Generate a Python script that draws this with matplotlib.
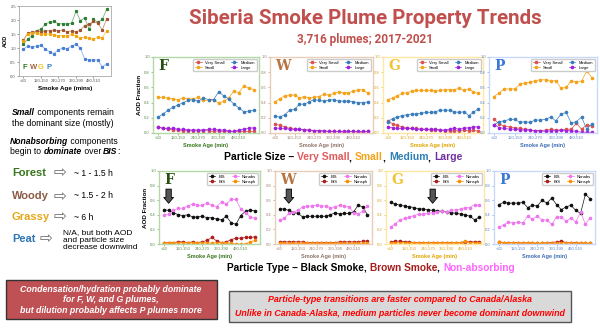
import matplotlib
matplotlib.use('Agg')
import matplotlib.pyplot as plt
import numpy as np
from matplotlib.patches import Rectangle

plt.rcParams['font.family'] = ['Liberation Sans', 'DejaVu Sans']

W, H = 600, 328

# ---- data ----
age_ticks = [0, 4, 8, 12, 16]
age_labels = ['<30', '120-150', '240-270', '360-390', '480-510']
x = np.arange(20)

# inset: total AOD per fuel type
aod_forest = [1.13, 1.32, 1.44, 1.62, 1.67, 1.86, 1.92, 1.95, 1.86, 1.87,
              1.86, 1.88, 2.31, 1.98, 2.08, 1.67, 2.02, 1.92, 2.02, 2.38]
aod_woody = [1.29, 1.52, 1.57, 1.61, 1.58, 1.61, 1.62, 1.64, 1.61, 1.64,
             1.57, 1.61, 1.58, 1.64, 1.80, 1.86, 1.95, 1.88, 1.64, 2.04]
aod_grassy = [1.25, 1.51, 1.55, 1.52, 1.49, 1.51, 1.49, 1.48, 1.44, 1.44,
              1.43, 1.49, 1.43, 1.37, 1.38, 1.35, 1.31, 1.39, 1.37, 1.61]
aod_peat = [0.96, 1.07, 1.03, 1.07, 1.09, 0.97, 0.86, 0.80, 0.94, 1.00,
            0.98, 1.07, 1.13, 1.00, 0.60, 0.58, 0.57, 0.57, 0.33, 0.43]

# particle size fractions
size_F = {
    'Very Small': [0.08, 0.06, 0.05, 0.04, 0.04, 0.03, 0.03, 0.03, 0.03, 0.03,
                   0.03, 0.02, 0.03, 0.02, 0.02, 0.02, 0.02, 0.02, 0.02, 0.02],
    'Small': [0.47, 0.47, 0.46, 0.45, 0.44, 0.46, 0.45, 0.45, 0.47, 0.43,
              0.43, 0.44, 0.39, 0.42, 0.46, 0.55, 0.53, 0.62, 0.59, 0.57],
    'Medium': [0.21, 0.25, 0.30, 0.34, 0.37, 0.40, 0.43, 0.44, 0.42, 0.46,
               0.44, 0.44, 0.54, 0.49, 0.45, 0.38, 0.33, 0.28, 0.29, 0.30],
    'Large': [0.08, 0.06, 0.06, 0.06, 0.05, 0.05, 0.04, 0.04, 0.04, 0.04,
              0.05, 0.05, 0.04, 0.04, 0.03, 0.02, 0.04, 0.05, 0.06, 0.07],
}
size_W = {
    'Very Small': [0.12, 0.10, 0.08, 0.06, 0.05, 0.05, 0.04, 0.04, 0.03, 0.03,
                   0.02, 0.02, 0.02, 0.02, 0.01, 0.02, 0.02, 0.01, 0.01, 0.02],
    'Small': [0.41, 0.45, 0.49, 0.50, 0.50, 0.46, 0.48, 0.46, 0.47, 0.48,
              0.51, 0.50, 0.52, 0.54, 0.53, 0.53, 0.55, 0.57, 0.57, 0.52],
    'Medium': [0.22, 0.21, 0.24, 0.30, 0.31, 0.38, 0.38, 0.41, 0.44, 0.43,
               0.42, 0.43, 0.44, 0.42, 0.42, 0.42, 0.41, 0.40, 0.40, 0.41],
    'Large': [0.07, 0.06, 0.06, 0.05, 0.05, 0.05, 0.04, 0.04, 0.03, 0.03,
              0.03, 0.02, 0.02, 0.02, 0.02, 0.02, 0.02, 0.02, 0.02, 0.02],
}
size_G = {
    'Very Small': [0.16, 0.12, 0.10, 0.08, 0.07, 0.06, 0.06, 0.05, 0.05, 0.04,
                   0.04, 0.04, 0.03, 0.03, 0.03, 0.03, 0.04, 0.03, 0.04, 0.02],
    'Small': [0.44, 0.46, 0.49, 0.52, 0.53, 0.55, 0.56, 0.56, 0.56, 0.56,
              0.55, 0.56, 0.57, 0.57, 0.57, 0.59, 0.56, 0.58, 0.54, 0.52],
    'Medium': [0.15, 0.19, 0.21, 0.23, 0.24, 0.25, 0.25, 0.26, 0.27, 0.27,
               0.28, 0.30, 0.30, 0.30, 0.28, 0.27, 0.28, 0.23, 0.27, 0.32],
    'Large': [0.08, 0.07, 0.06, 0.06, 0.06, 0.06, 0.05, 0.05, 0.05, 0.05,
              0.05, 0.04, 0.04, 0.05, 0.06, 0.05, 0.06, 0.07, 0.08, 0.08],
}
size_P = {
    'Very Small': [0.18, 0.12, 0.09, 0.08, 0.07, 0.06, 0.05, 0.04, 0.03, 0.03,
                   0.04, 0.05, 0.04, 0.04, 0.05, 0.05, 0.13, 0.05, 0.11, 0.09],
    'Small': [0.48, 0.53, 0.58, 0.58, 0.58, 0.64, 0.66, 0.67, 0.69, 0.70,
              0.70, 0.68, 0.69, 0.59, 0.60, 0.69, 0.67, 0.68, 0.82, 0.73],
    'Medium': [0.11, 0.15, 0.16, 0.18, 0.18, 0.14, 0.15, 0.14, 0.17, 0.17,
               0.18, 0.21, 0.16, 0.25, 0.27, 0.13, 0.15, 0.21, 0.05, 0.12],
    'Large': [0.11, 0.07, 0.06, 0.05, 0.05, 0.04, 0.04, 0.04, 0.03, 0.03,
              0.02, 0.03, 0.03, 0.04, 0.03, 0.03, 0.02, 0.01, 0.01, 0.01],
}

# particle type fractions
type_F = {
    'BlS': [0.47, 0.46, 0.43, 0.40, 0.39, 0.40, 0.37, 0.37, 0.38, 0.36,
            0.36, 0.34, 0.33, 0.38, 0.29, 0.27, 0.39, 0.45, 0.47, 0.45],
    'BrS': [0.02, 0.02, 0.02, 0.03, 0.03, 0.02, 0.03, 0.02, 0.03, 0.05,
            0.09, 0.04, 0.02, 0.03, 0.06, 0.08, 0.08, 0.09, 0.09, 0.10],
    'Nonabs': [0.40, 0.41, 0.46, 0.49, 0.49, 0.52, 0.55, 0.53, 0.53, 0.56,
               0.53, 0.51, 0.58, 0.55, 0.61, 0.61, 0.48, 0.43, 0.37, 0.35],
    'Nonsph': [0.02, 0.02, 0.02, 0.02, 0.02, 0.02, 0.02, 0.02, 0.02, 0.02,
               0.01, 0.02, 0.02, 0.02, 0.01, 0.00, 0.00, 0.00, 0.03, 0.05],
}
type_W = {
    'BlS': [0.48, 0.48, 0.46, 0.43, 0.42, 0.37, 0.38, 0.38, 0.38, 0.38,
            0.38, 0.40, 0.43, 0.41, 0.42, 0.42, 0.44, 0.53, 0.51, 0.40],
    'BrS': [0.03, 0.03, 0.03, 0.03, 0.03, 0.03, 0.02, 0.02, 0.02, 0.02,
            0.02, 0.02, 0.02, 0.03, 0.03, 0.03, 0.03, 0.03, 0.04, 0.04],
    'Nonabs': [0.33, 0.35, 0.42, 0.44, 0.46, 0.51, 0.52, 0.52, 0.53, 0.52,
               0.52, 0.50, 0.51, 0.53, 0.52, 0.51, 0.43, 0.41, 0.45, 0.52],
    'Nonsph': [0.01, 0.01, 0.01, 0.01, 0.01, 0.01, 0.01, 0.01, 0.01, 0.01,
               0.01, 0.01, 0.01, 0.01, 0.01, 0.01, 0.01, 0.01, 0.01, 0.01],
}
type_G = {
    'BlS': [0.57, 0.55, 0.53, 0.52, 0.51, 0.50, 0.48, 0.48, 0.47, 0.46,
            0.45, 0.45, 0.44, 0.43, 0.42, 0.41, 0.40, 0.38, 0.33, 0.37],
    'BrS': [0.03, 0.04, 0.04, 0.03, 0.03, 0.02, 0.02, 0.02, 0.02, 0.02,
            0.02, 0.02, 0.02, 0.02, 0.02, 0.02, 0.03, 0.03, 0.03, 0.03],
    'Nonabs': [0.23, 0.28, 0.33, 0.35, 0.37, 0.39, 0.41, 0.41, 0.42, 0.43,
               0.44, 0.45, 0.44, 0.46, 0.47, 0.48, 0.50, 0.50, 0.54, 0.53],
    'Nonsph': [0.02, 0.02, 0.02, 0.02, 0.02, 0.02, 0.02, 0.02, 0.02, 0.02,
               0.02, 0.02, 0.02, 0.02, 0.02, 0.02, 0.04, 0.02, 0.02, 0.02],
}
type_P = {
    'BlS': [0.54, 0.57, 0.56, 0.56, 0.56, 0.57, 0.50, 0.53, 0.52, 0.60,
            0.56, 0.63, 0.54, 0.47, 0.51, 0.53, 0.46, 0.42, 0.68, 0.62],
    'BrS': [0.03, 0.02, 0.02, 0.02, 0.02, 0.01, 0.02, 0.01, 0.01, 0.01,
            0.02, 0.02, 0.03, 0.04, 0.02, 0.02, 0.02, 0.01, 0.01, 0.01],
    'Nonabs': [0.23, 0.26, 0.30, 0.29, 0.30, 0.29, 0.38, 0.34, 0.38, 0.33,
               0.33, 0.27, 0.37, 0.37, 0.31, 0.36, 0.30, 0.44, 0.27, 0.36],
    'Nonsph': [0.03, 0.02, 0.02, 0.02, 0.02, 0.02, 0.02, 0.02, 0.01, 0.01,
               0.02, 0.01, 0.01, 0.02, 0.02, 0.02, 0.01, 0.02, 0.01, 0.01],
}

# index where nonabsorbing overtakes black smoke (arrow), None for peat
crossover = {'F': 1, 'W': 2, 'G': 9, 'P': None}

size_colors = {'Very Small': '#d9534f', 'Small': '#f5a31a',
               'Medium': '#3a7dbd', 'Large': '#a020e0'}
type_colors = {'BlS': '#111111', 'BrS': '#b01c1c',
               'Nonabs': '#ee77ee', 'Nonsph': '#ff8c00'}

fuel_style = {
    'F': dict(frame='#b6d7a8', tick='#5b8a4a', label='#38761d', letter='#274e13'),
    'W': dict(frame='#e8cdb9', tick='#a08070', label='#8d7468', letter='#b7743f'),
    'G': dict(frame='#ffe7a3', tick='#d9a520', label='#e0a500', letter='#f1c232'),
    'P': dict(frame='#c9daf8', tick='#5a85c8', label='#3d6db5', letter='#3c78d8'),
}

fig = plt.figure(figsize=(W / 100, H / 100), dpi=100)
renderer = fig.canvas.get_renderer()


def px_axes(l, t, r, b):
    return fig.add_axes([l / W, 1 - b / H, (r - l) / W, (b - t) / H])


def rich(xp, yp, parts, size, ha='center'):
    # parts: (text, color, weight, style)
    arts = []
    for s, c, wgt, sty in parts:
        arts.append(fig.text(0, 1 - yp / H, s, color=c, fontsize=size,
                             fontweight=wgt, fontstyle=sty, va='center'))
    widths = [a.get_window_extent(renderer).width for a in arts]
    start = xp - sum(widths) / 2 if ha == 'center' else xp
    for a, w in zip(arts, widths):
        a.set_x(start / W)
        start += w


def style_panel(ax, key, ylabel):
    st = fuel_style[key]
    for sp in ax.spines.values():
        sp.set_color(st['frame'])
        sp.set_linewidth(1.0)
    ax.set_ylim(0, 1.0)
    ax.set_xlim(-1, 20)
    ax.set_yticks(np.arange(0, 1.01, 0.2))
    ax.set_yticklabels(['%.1f' % v for v in np.arange(0, 1.01, 0.2)])
    ax.set_xticks(age_ticks)
    ax.set_xticklabels(age_labels)
    ax.tick_params(labelsize=3, colors=st['tick'], length=1.2, width=0.4, pad=1)
    ax.set_xlabel('Smoke Age (min)', fontsize=4, color=st['label'],
                  fontweight='bold', labelpad=2)
    if ylabel:
        ax.set_ylabel('AOD Fraction', fontsize=4.5, fontweight='bold', labelpad=2)
    ax.text(0.05, 0.88, key, transform=ax.transAxes, fontsize=10,
            family='DejaVu Serif', fontweight='bold', color=st['letter'],
            va='center')


def panel(ax, key, series, colors, ylabel):
    for name, vals in series.items():
        ax.plot(x, vals, '-o', color=colors[name], ms=1.6, lw=0.5,
                mec=colors[name], label=name)
    style_panel(ax, key, ylabel)
    ax.legend(loc='upper right', ncol=2, fontsize=3, markerscale=1.0,
              handlelength=1.6, columnspacing=1.5, borderpad=0.4,
              labelspacing=0.2, frameon=True, edgecolor='#cccccc',
              fancybox=True, framealpha=1)


# ---- top row: particle size ----
top_pos = [(153, 57, 259, 133), (270, 57, 373, 133),
           (383, 57, 483, 133), (489, 57, 597, 133)]
for pos, key, data in zip(top_pos, 'FWGP', [size_F, size_W, size_G, size_P]):
    ax = px_axes(*pos)
    panel(ax, key, data, size_colors, key == 'F')

# ---- bottom row: particle type ----
bot_pos = [(159, 171, 260, 244), (275, 171, 372, 244),
           (386, 171, 484, 244), (494, 171, 595, 244)]
for pos, key, data in zip(bot_pos, 'FWGP', [type_F, type_W, type_G, type_P]):
    ax = px_axes(*pos)
    panel(ax, key, data, type_colors, key == 'F')
    i = crossover[key]
    if i is not None:
        ax.annotate('', xy=(i, 0.52), xytext=(i, 0.79),
                    arrowprops=dict(arrowstyle='simple,head_length=0.6,head_width=1.0,tail_width=0.55',
                                    fc='#555555', ec='black', lw=0.6,
                                    mutation_scale=7))

# ---- inset: AOD ----
ins = px_axes(19, 6, 111, 76)
inset_series = [(aod_forest, '#2e7d32'), (aod_woody, '#a0522d'),
                (aod_grassy, '#f0a30a'), (aod_peat, '#4a7fd6')]
for vals, c in inset_series:
    ins.plot(x, vals, '-', color=c, lw=0.6, alpha=0.6)
    ins.plot(x, vals, 's', color=c, ms=1.3, lw=0)
ins.set_ylim(0, 2.5)
ins.set_xlim(-1, 20)
ins.set_yticks([0, 0.5, 1.0, 1.5, 2.0, 2.5])
ins.set_yticklabels(['0.0', '0.5', '1.0', '1.5', '2.0', '2.5'])
ins.set_xticks(age_ticks)
ins.set_xticklabels(age_labels)
ins.tick_params(labelsize=3, colors='#555555', length=1.2, width=0.4, pad=1)
for sp in ins.spines.values():
    sp.set_color('#aaaaaa')
    sp.set_linewidth(0.6)
ins.set_ylabel('AOD', fontsize=4, fontweight='bold', labelpad=2)
ins.set_xlabel('Smoke Age (mins)', fontsize=4.5, fontweight='bold', labelpad=2)
for fx, letter, c in zip([0.065, 0.155, 0.24, 0.325], 'FWGP',
                         ['#38761d', '#a0673c', '#f1c232', '#3d85c6']):
    ins.text(fx, 0.12, letter, transform=ins.transAxes, fontsize=5.5,
             fontweight='bold', color=c, va='center', ha='center')

# ---- titles ----
fig.text(365 / W, 1 - 18 / H, 'Siberia Smoke Plume Property Trends',
         family=['Roboto', 'DejaVu Sans'], fontweight='bold', fontsize=14.8,
         color='#c0504d', ha='center', va='center')
fig.text(365 / W, 1 - 40 / H, '3,716 plumes; 2017-2021',
         family=['Roboto', 'DejaVu Sans'], fontweight='bold', fontsize=8.5,
         color='#c0504d', ha='center', va='center')

rich(343, 157, [('Particle Size \u2013 ', 'black', 'bold', 'normal'),
                ('Very Small', '#e05c5c', 'bold', 'normal'),
                (', ', 'black', 'bold', 'normal'),
                ('Small', '#f5a31a', 'bold', 'normal'),
                (', ', 'black', 'bold', 'normal'),
                ('Medium', '#2f80b5', 'bold', 'normal'),
                (', ', 'black', 'bold', 'normal'),
                ('Large', '#7030a0', 'bold', 'normal')], 7.5)
rich(371, 268, [('Particle Type \u2013 Black Smoke, ', 'black', 'bold', 'normal'),
                ('Brown Smoke', '#a61c1c', 'bold', 'normal'),
                (', ', 'black', 'bold', 'normal'),
                ('Non-absorbing', '#ff66ff', 'bold', 'normal')], 7.3)

# ---- left notes ----
note_size = 6.2
rich(12, 112, [('Small', 'black', 'bold', 'italic'),
               (' components remain', 'black', 'normal', 'normal')], note_size, ha='left')
rich(12, 123, [('the dominant size (mostly)', 'black', 'normal', 'normal')], note_size, ha='left')
rich(10, 141, [('Nonabsorbing', 'black', 'bold', 'italic'),
               (' components', 'black', 'normal', 'normal')], note_size, ha='left')
rich(10, 151, [('begin to ', 'black', 'normal', 'normal'),
               ('dominate', 'black', 'bold', 'italic'),
               (' over ', 'black', 'normal', 'normal'),
               ('BIS', 'black', 'bold', 'italic'),
               (':', 'black', 'normal', 'normal')], note_size, ha='left')

fuels = [('Forest', '#38761d', 173, 53, '~ 1 - 1.5 h'),
         ('Woody', '#8b5a44', 196, 53, '~ 1.5 - 2 h'),
         ('Grassy', '#e6a817', 217, 53, '~ 6 h'),
         ('Peat', '#2e75b6', 239, 40, None)]
for name, c, yp, ax_px, note in fuels:
    rich(12, yp, [(name, c, 'bold', 'normal')], 8, ha='left')
    fig.text(ax_px / W, 1 - yp / H, '\u21e8', fontsize=11, color='#666666',
             family='DejaVu Sans', va='center')
    if note:
        fig.text(74 / W, 1 - yp / H, note, fontsize=6.2, va='center')
fig.text(63 / W, 1 - 229 / H, 'N/A, but both AOD\nand particle size\ndecrease downwind',
         fontsize=6.0, va='top', linespacing=1.12)

# ---- boxes ----
fig.add_artist(Rectangle((6 / W, 1 - 319 / H), 211 / W, 39 / H,
                         transform=fig.transFigure, fc='#bf5054', ec='#333333', lw=1))
fig.text(111 / W, 1 - 300 / H,
         'Condensation/hydration probably dominate\nfor F, W, and G plumes,\n'
         'but dilution probably affects P plumes more',
         fontsize=6.3, color='white', fontweight='bold', fontstyle='italic',
         ha='center', va='center', multialignment='center', linespacing=1.2)

fig.add_artist(Rectangle((229 / W, 1 - 322 / H), 342 / W, 31 / H,
                         transform=fig.transFigure, fc='#d9d9d9', ec='#555555', lw=1))
fig.text(400 / W, 1 - 299 / H, 'Particle-type transitions are faster compared to Canada/Alaska',
         fontsize=6.4, color='#ff0000', fontweight='bold', fontstyle='italic',
         ha='center', va='center')
fig.text(400 / W, 1 - 314 / H,
         'Unlike in Canada-Alaska, medium particles never become dominant downwind',
         fontsize=6.4, color='#ff0000', fontweight='bold', fontstyle='italic',
         ha='center', va='center')

fig.savefig('out.png', dpi=100)
